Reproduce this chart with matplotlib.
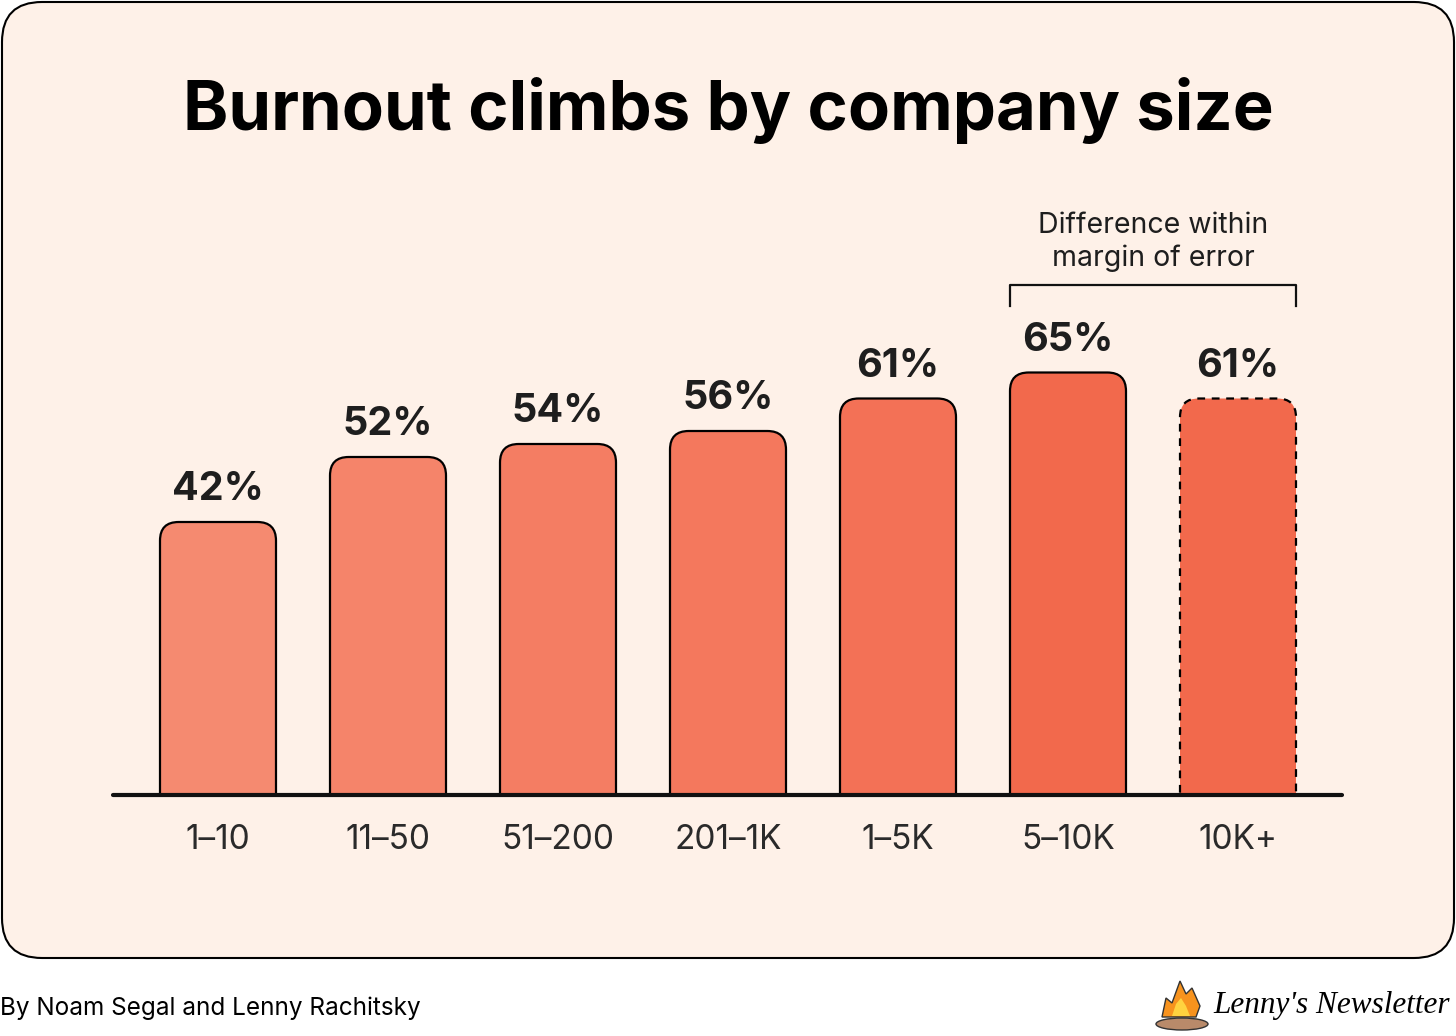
import matplotlib.pyplot as plt
from matplotlib.patches import FancyBboxPatch, Polygon, Ellipse

plt.rcParams['font.family'] = ['Inter', 'DejaVu Sans']

# Data
sizes = ['1–10', '11–50', '51–200', '201–1K', '1–5K', '5–10K', '10K+']
burnout = [42, 52, 54, 56, 61, 65, 61]
dashed = [False, False, False, False, False, False, True]

colors = ['#F58A70', '#F5846A', '#F47D63', '#F4785D', '#F37156', '#F2694C', '#F2694C']
panel_bg = '#FEF1E8'
ink = '#1E1E1E'

W, H = 1456, 1036
fig = plt.figure(figsize=(W / 100, H / 100), dpi=100)
fig.patch.set_facecolor('white')

# Background panel (inches)
panel = FancyBboxPatch((0.02, (H - 958) / 100), 14.52, 9.56,
                       boxstyle='round,pad=0,rounding_size=0.4',
                       transform=fig.dpi_scale_trans, facecolor=panel_bg,
                       edgecolor='black', linewidth=1.5, zorder=-5)
fig.patches.append(panel)

# Title
fig.text(0.5, (H - 110) / H, 'Burnout climbs by company size', ha='center', va='center',
         fontsize=49.5, fontweight='bold', color='black')

# Bars axes
ax = fig.add_axes([113 / W, 241 / H, (1342 - 113) / W, 650 / H], zorder=2)
ax.set_facecolor('none')
ax.set_xlim((113 - 218) / 170, (1342 - 218) / 170)
ax.set_ylim(0, 100)

bw = 116 / 170
bars = ax.bar(range(len(burnout)), burnout, width=bw)
for rect, c, d in zip(bars, colors, dashed):
    x0, w, h = rect.get_x(), rect.get_width(), rect.get_height()
    rect.remove()
    p = FancyBboxPatch((x0, -10), w, h + 10,
                       boxstyle='round,pad=0,rounding_size=0.11',
                       mutation_aspect=26, facecolor=c, edgecolor='black',
                       linewidth=1.6, linestyle=(0, (3.5, 3)) if d else '-', zorder=2)
    ax.add_patch(p)

for i, v in enumerate(burnout):
    ax.annotate(f'{v}%', (i, v), xytext=(0, 10), textcoords='offset points',
                ha='center', va='bottom', fontsize=28.5, fontweight='bold', color=ink)

for s in ['top', 'left', 'right']:
    ax.spines[s].set_visible(False)
ax.spines['bottom'].set_linewidth(3)
ax.spines['bottom'].set_color('#111111')
ax.spines['bottom'].set_capstyle('round')
ax.spines['bottom'].set_zorder(3)
ax.set_yticks([])
ax.set_xticks(range(len(sizes)), sizes)
ax.tick_params(axis='x', length=0, pad=21, labelsize=24, labelcolor='#2A2A2A')

# Bracket over the last two bars
bx0 = 5 - bw / 2
bx1 = 6 + bw / 2
ytop, ybot = 78.5, 75.2
ax.plot([bx0, bx0, bx1, bx1], [ybot, ytop, ytop, ybot], color='#111111',
        linewidth=1.6, clip_on=False)
ax.text((bx0 + bx1) / 2, ytop + 2.0, 'Difference within\nmargin of error', ha='center',
        va='bottom', fontsize=20.5, color=ink, linespacing=1.25)

# Footer
fig.text(0.0, (H - 1008) / H, 'By Noam Segal and Lenny Rachitsky', ha='left', va='center',
         fontsize=17.5, color='black')
fig.text(1213 / W, (H - 1006) / H, "Lenny's Newsletter", ha='left', va='center',
         fontsize=22.5, fontstyle='italic', family='Liberation Serif', color='black')

# Small campfire logo (inches)
t = fig.dpi_scale_trans
logo = [
    Ellipse((11.82, 0.12), 0.52, 0.12, transform=t, facecolor='#B98A6A', edgecolor='#333333', lw=1),
    Polygon([(11.62, 0.19), (11.66, 0.38), (11.72, 0.33), (11.80, 0.55), (11.86, 0.42),
             (11.92, 0.48), (12.00, 0.30), (11.96, 0.19)], closed=True, transform=t,
            facecolor='#F7931E', edgecolor='#333333', lw=1),
    Polygon([(11.72, 0.20), (11.76, 0.32), (11.81, 0.38), (11.86, 0.30), (11.90, 0.20)],
            closed=True, transform=t, facecolor='#FFD23F', edgecolor='none'),
]
for pp in logo:
    fig.patches.append(pp)

plt.savefig('out.png', dpi=100)
